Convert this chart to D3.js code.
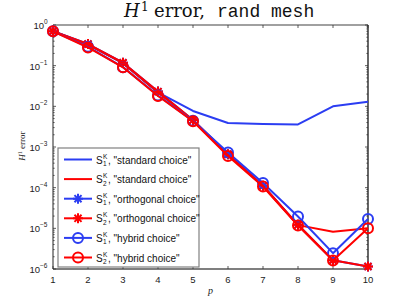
<!DOCTYPE html>
<html>
<head>
<meta charset="utf-8">
<script src="https://cdn.jsdelivr.net/npm/d3@7"></script>
<style>
  body { margin: 0; background: #fff; }
  svg { display: block; }
</style>
</head>
<body>
<div id="vis"></div>
<script>
// polynomial degree
const P_VALUES = [1, 2, 3, 4, 5, 6, 7, 8, 9, 10];

// H1 errors
const blueStandard   = [0.70, 0.33, 0.115, 0.022, 0.0077, 0.0039, 0.0037, 0.0036, 0.010, 0.0129];
const redStandard    = [0.70, 0.33, 0.115, 0.022, 0.0045, 0.00065, 0.00011, 1.2e-5, 8.2e-6, 1.0e-5];
const blueOrthogonal = [0.70, 0.34, 0.118, 0.023, 0.0046, 0.00066, 0.000112, 1.22e-5, 1.65e-6, 1.15e-6];
const redOrthogonal  = [0.70, 0.34, 0.118, 0.023, 0.0046, 0.00066, 0.000112, 1.22e-5, 1.65e-6, 1.15e-6];
const blueHybrid     = [0.70, 0.29, 0.092, 0.0185, 0.0044, 0.00073, 0.00013, 1.96e-5, 2.45e-6, 1.69e-5];
const redHybrid      = [0.70, 0.28, 0.091, 0.018, 0.0043, 0.00060, 0.000107, 1.17e-5, 1.62e-6, 1.01e-5];

const legendLabels = ['"standard choice"', '"standard choice"', '"orthogonal choice"',
                      '"orthogonal choice"', '"hybrid choice"', '"hybrid choice"'];
const legendSubs = ["1", "2", "1", "2", "1", "2"];
const yTickExps = [0, -1, -2, -3, -4, -5, -6];

const BLUE = "#2b3df2";
const RED = "#ff0000";

const series = [
  { values: blueStandard,   color: BLUE, marker: "none" },
  { values: redStandard,    color: RED,  marker: "none" },
  { values: blueOrthogonal, color: BLUE, marker: "star" },
  { values: redOrthogonal,  color: RED,  marker: "star" },
  { values: blueHybrid,     color: BLUE, marker: "circle" },
  { values: redHybrid,      color: RED,  marker: "circle" },
];

const W = 407, H = 306;
const M = { left: 53, right: 39, top: 25, bottom: 37 };

const x = d3.scaleLinear().domain([1, 10]).range([M.left, W - M.right]);
const y = d3.scaleLog().domain([1e-6, 1]).range([H - M.bottom, M.top]);

const svg = d3.select("#vis").append("svg")
  .attr("width", W).attr("height", H)
  .style("font-family", "'Liberation Sans', Arial, sans-serif");

//#region axes
const minorVals = [];
for (let e = -6; e < 0; e++) {
  for (let k = 2; k < 10; k++) minorVals.push(k * Math.pow(10, e));
}
const majorVals = yTickExps.map(e => Math.pow(10, e));

// box
svg.append("line").attr("x1", x(1)).attr("x2", x(10)).attr("y1", M.top).attr("y2", M.top)
  .attr("stroke", "#808080").attr("stroke-width", 1.3);
svg.append("line").attr("x1", x(1)).attr("x2", x(1)).attr("y1", M.top).attr("y2", H - M.bottom)
  .attr("stroke", "#555").attr("stroke-width", 1.3);
svg.append("line").attr("x1", x(10)).attr("x2", x(10)).attr("y1", M.top).attr("y2", H - M.bottom)
  .attr("stroke", "#000").attr("stroke-width", 1.2);
svg.append("line").attr("x1", x(1)).attr("x2", x(10)).attr("y1", H - M.bottom).attr("y2", H - M.bottom)
  .attr("stroke", "#000").attr("stroke-width", 1.2);

const ticks = svg.append("g").attr("stroke", "#333").attr("stroke-width", 0.8);
// x ticks bottom + top
P_VALUES.forEach(p => {
  ticks.append("line").attr("x1", x(p)).attr("x2", x(p))
    .attr("y1", H - M.bottom).attr("y2", H - M.bottom - 3);
  ticks.append("line").attr("x1", x(p)).attr("x2", x(p))
    .attr("y1", M.top).attr("y2", M.top + 3);
});
// y ticks left + right
majorVals.forEach(v => {
  ticks.append("line").attr("x1", x(1)).attr("x2", x(1) + 3).attr("y1", y(v)).attr("y2", y(v));
  ticks.append("line").attr("x1", x(10)).attr("x2", x(10) - 3).attr("y1", y(v)).attr("y2", y(v));
});
minorVals.forEach(v => {
  ticks.append("line").attr("x1", x(1)).attr("x2", x(1) + 1.6).attr("y1", y(v)).attr("y2", y(v));
  ticks.append("line").attr("x1", x(10)).attr("x2", x(10) - 1.6).attr("y1", y(v)).attr("y2", y(v));
});

// x tick labels
svg.append("g").selectAll("text").data(P_VALUES).join("text")
  .attr("x", d => x(d)).attr("y", H - M.bottom + 14)
  .attr("text-anchor", "middle").attr("font-size", 9.5).attr("fill", "#222")
  .text(d => d);

// y tick labels 10^e
const yl = svg.append("g").selectAll("g").data(yTickExps).join("g")
  .attr("transform", d => `translate(${x(1) - 5},${y(Math.pow(10, d)) + 4})`);
yl.append("text").attr("text-anchor", "end").attr("font-size", 9.5).attr("fill", "#222")
  .attr("x", d => d === 0 ? -4 : -8).text("10");
yl.append("text").attr("font-size", 6.5).attr("fill", "#222")
  .attr("x", d => d === 0 ? -4 : -8).attr("y", -5)
  .text(d => d === 0 ? "0" : "\u2212" + (-d));
//#endregion

//#region labels
const title = svg.append("text").attr("y", 17).attr("font-size", 18).attr("fill", "#111");
title.append("tspan").attr("x", 124).attr("font-family", "'DejaVu Serif', serif")
  .attr("font-style", "italic").text("H");
title.append("tspan").attr("x", 141).attr("dy", -6).attr("font-size", 12)
  .attr("font-family", "'DejaVu Serif', serif").text("1");
title.append("tspan").attr("x", 154).attr("dy", 6)
  .attr("font-family", "'DejaVu Serif', serif").text("error,");
title.append("tspan").attr("x", 217)
  .attr("font-family", "'Liberation Mono', monospace").text("rand mesh");

const ylab = svg.append("text").attr("transform", "translate(25,146) rotate(-90)")
  .attr("text-anchor", "middle").attr("font-family", "'Liberation Serif', serif")
  .attr("font-size", 9).attr("fill", "#222");
ylab.append("tspan").attr("font-style", "italic").text("H");
ylab.append("tspan").attr("font-size", 6).attr("dy", -3).text("1");
ylab.append("tspan").attr("dy", 3).text(" error");

svg.append("text").attr("x", x(5.5)).attr("y", 294).attr("text-anchor", "middle")
  .attr("font-family", "'Liberation Serif', serif").attr("font-style", "italic")
  .attr("font-size", 10).attr("fill", "#222").text("p");
//#endregion

//#region series
const line = d3.line().x((d, i) => x(P_VALUES[i])).y(d => y(d));

function starPath(r) {
  const d = r * Math.SQRT1_2;
  return `M${-r},0L${r},0M0,${-r}L0,${r}M${-d},${-d}L${d},${d}M${-d},${d}L${d},${-d}`;
}

function drawMarker(g, type, color, cx, cy) {
  if (type === "circle") {
    g.append("circle").attr("cx", cx).attr("cy", cy).attr("r", 5)
      .attr("fill", "none").attr("stroke", color).attr("stroke-width", 2);
  } else if (type === "star") {
    g.append("path").attr("transform", `translate(${cx},${cy})`).attr("d", starPath(5))
      .attr("fill", "none").attr("stroke", color).attr("stroke-width", 2);
  }
}

const plot = svg.append("g");
series.forEach(s => {
  const g = plot.append("g");
  g.append("path").attr("d", line(s.values)).attr("fill", "none")
    .attr("stroke", s.color).attr("stroke-width", 2).attr("stroke-linejoin", "round");
  s.values.forEach((v, i) => drawMarker(g, s.marker, s.color, x(P_VALUES[i]), y(v)));
});
//#endregion

//#region legend
const lx = 58, ly = 148, lw = 141, lh = 119, rowH = 19.6;
const legend = svg.append("g");
legend.append("rect").attr("x", lx).attr("y", ly).attr("width", lw).attr("height", lh)
  .attr("fill", "#fff").attr("stroke", "#808080").attr("stroke-width", 1.2);

series.forEach((s, i) => {
  const cy = ly + 11.5 + i * rowH;
  const row = legend.append("g");
  row.append("line").attr("x1", lx + 6).attr("x2", lx + 34).attr("y1", cy).attr("y2", cy)
    .attr("stroke", s.color).attr("stroke-width", 2);
  drawMarker(row, s.marker, s.color, lx + 20, cy);
  const tx = lx + 38;
  row.append("text").attr("x", tx).attr("y", cy + 4).attr("font-size", 10).attr("fill", "#111").text("S");
  row.append("text").attr("x", tx + 7).attr("y", cy - 1).attr("font-size", 6.5).attr("fill", "#111").text("K");
  row.append("text").attr("x", tx + 7).attr("y", cy + 6.5).attr("font-size", 6.5).attr("fill", "#111").text(legendSubs[i]);
  row.append("text").attr("x", tx + 12).attr("y", cy + 4).attr("font-size", 10).attr("fill", "#111")
    .text(", " + legendLabels[i]);
});
//#endregion
</script>
</body>
</html>
